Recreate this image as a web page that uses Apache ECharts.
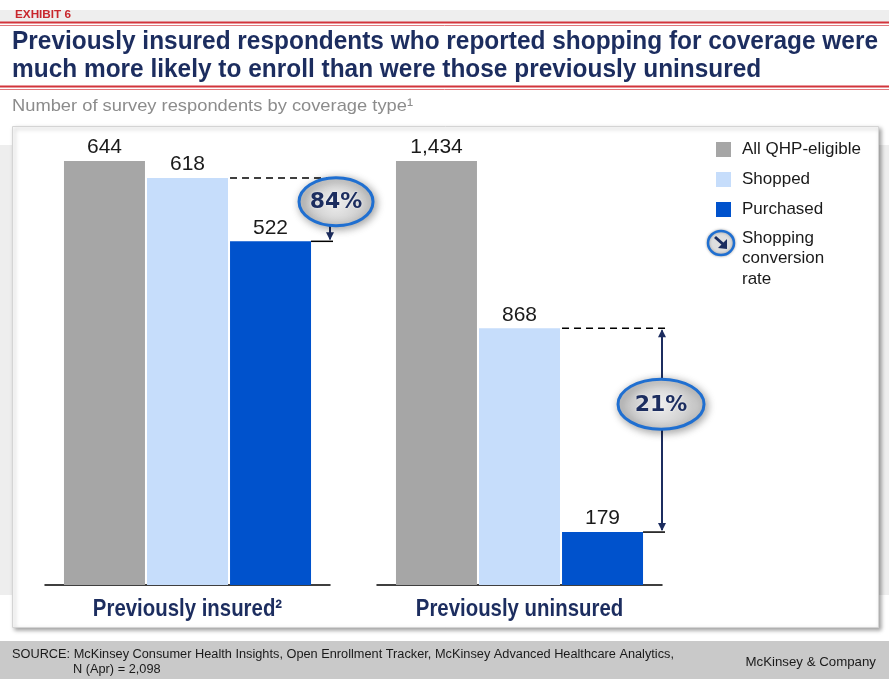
<!DOCTYPE html>
<html>
<head>
<meta charset="utf-8">
<script src="https://cdn.jsdelivr.net/npm/echarts@6/dist/echarts.min.js"></script>
<style>
  html, body { margin: 0; padding: 0; background: #ffffff; }
  #chart { width: 889px; height: 679px; }
</style>
</head>
<body>
<div id="chart"></div>
<script>
// Coverage groups and respondent counts per group
const groups = ['Previously insured²', 'Previously uninsured'];
const seriesNames = ['All QHP-eligible', 'Shopped', 'Purchased'];
const insuredCounts = [644, 618, 522];
const uninsuredCounts = [1434, 868, 179];
const groupCounts = [insuredCounts, uninsuredCounts];

const barColors = ['#a6a6a6', '#c6ddfb', '#0052cc'];
const navy = '#1c2d5f';
const sans = '"Liberation Sans", Arial, sans-serif';

const W = 889, H = 679;
const chart = echarts.init(document.getElementById('chart'), null, { renderer: 'canvas', width: W, height: H });

const fmt = v => v.toLocaleString('en-US');

// horizontal squeeze so a text run fills a given width (condensed look)
const measureCtx = document.createElement('canvas').getContext('2d');
function fitScale(text, weight, size, target) {
  measureCtx.font = weight + ' ' + size + 'px ' + sans;
  return target / measureCtx.measureText(text).width;
}
function fittedText(text, x, y, opts) {
  const weight = opts.weight || 'normal';
  const s = opts.scale || fitScale(text, weight, opts.size, opts.width);
  return {
    type: 'text',
    x: x, y: y, scaleX: s,
    style: {
      text: text, x: 0, y: 0,
      align: opts.align || 'left',
      verticalAlign: 'middle',
      fontFamily: sans,
      fontWeight: weight,
      fontSize: opts.size,
      fill: opts.fill
    },
    z: opts.z || 1
  };
}

// one grid per group, each scaled to its own largest count
const gridDefs = [
  { left: 45, top: 161, width: 285, bottom: 94 },
  { left: 377, top: 161, width: 285, bottom: 94 }
];

const series = [];
groupCounts.forEach((counts, g) => {
  counts.forEach((v, i) => {
    series.push({
      type: 'bar',
      name: seriesNames[i],
      xAxisIndex: g,
      yAxisIndex: g,
      data: [v],
      barWidth: 81,
      barGap: '2.5%',
      itemStyle: { color: barColors[i] },
      label: {
        show: true,
        position: 'top',
        distance: 3,
        formatter: p => fmt(p.value),
        fontFamily: sans,
        fontSize: 21,
        color: '#1a1a1a'
      },
      silent: true,
      animation: false,
      z: 5
    });
  });
});

chart.setOption({
  backgroundColor: '#ffffff',
  animation: false,
  grid: gridDefs,
  xAxis: groups.map((name, g) => ({
    type: 'category',
    gridIndex: g,
    data: [name],
    axisLine: { lineStyle: { color: '#000000', width: 1.5 } },
    axisTick: { show: false },
    axisLabel: { show: false }
  })),
  yAxis: groupCounts.map((counts, g) => ({
    type: 'value',
    gridIndex: g,
    min: 0,
    max: Math.max.apply(null, counts),
    show: false,
    splitLine: { show: false }
  })),
  legend: {
    data: seriesNames,
    orient: 'vertical',
    left: 711,
    top: 136,
    itemWidth: 15,
    itemHeight: 15,
    itemGap: 13,
    icon: 'rect',
    selectedMode: false,
    textStyle: { fontFamily: sans, fontSize: 17, color: '#1a1a1a', padding: [0, 0, 0, 6] }
  },
  series: series
});

// bar rectangle in pixels for a given series index
function barRect(seriesIndex, g, i) {
  try {
    const lay = chart.getModel().getSeriesByIndex(seriesIndex).getData().getItemLayout(0);
    if (lay && isFinite(lay.x)) {
      return { x0: Math.min(lay.x, lay.x + lay.width), x1: Math.max(lay.x, lay.x + lay.width),
               top: Math.min(lay.y, lay.y + lay.height) };
    }
  } catch (e) {}
  const cx = chart.convertToPixel({ xAxisIndex: g }, groups[g]);
  const bw = 81, gap = 81 * 0.025;
  const start = cx - (3 * bw + 2 * gap) / 2 + i * (bw + gap);
  const top = chart.convertToPixel({ yAxisIndex: g }, groupCounts[g][i]);
  return { x0: start, x1: start + bw, top: top };
}

function arrowHead(x, y, dir, color) {
  // dir: 1 points down, -1 points up
  return {
    type: 'polygon',
    shape: { points: [[x - 4, y - dir * 8], [x + 4, y - dir * 8], [x, y]] },
    style: { fill: color },
    z: 20
  };
}

function rateBadge(cx, cy, rx, ry, text) {
  return [
    {
      type: 'ellipse',
      shape: { cx: cx, cy: cy, rx: rx, ry: ry },
      style: {
        fill: { type: 'radial', x: 0.5, y: 0.5, r: 0.6,
          colorStops: [{ offset: 0, color: '#eeeeee' }, { offset: 1, color: '#c9c9c9' }] },
        stroke: '#1f6fd1',
        lineWidth: 3,
        shadowBlur: 8,
        shadowColor: 'rgba(0,0,0,0.35)',
        shadowOffsetX: 2,
        shadowOffsetY: 2
      },
      z: 30
    },
    {
      type: 'text',
      style: {
        text: text,
        x: cx, y: cy + 1,
        align: 'center',
        verticalAlign: 'middle',
        fontFamily: '"DejaVu Sans", sans-serif',
        fontWeight: 'bold',
        fontSize: 22,
        fill: navy,
        textShadowColor: 'rgba(255,255,255,0.9)',
        textShadowBlur: 2
      },
      z: 31
    }
  ];
}

const graphics = [];
const titleLine1 = 'Previously insured respondents who reported shopping for coverage were';
const titleLine2 = 'much more likely to enroll than were those previously uninsured';
const titleScale = fitScale(titleLine1, 'bold', 26, 866);
const sourceLine = 'SOURCE: McKinsey Consumer Health Insights, Open Enrollment Tracker, McKinsey Advanced Healthcare Analytics,';
const sourceScale = fitScale(sourceLine, 'normal', 12.5, 662);

// page furniture
graphics.push(
  { type: 'rect', shape: { x: 0, y: 10, width: W, height: 12 }, style: { fill: '#eeeeee' }, z: -10 },
  fittedText('EXHIBIT 6', 15, 15.5, { weight: 'bold', size: 10.5, width: 56, fill: '#c8262c' }),
  { type: 'line', shape: { x1: 0, y1: 22.5, x2: W, y2: 22.5 }, style: { stroke: '#d2343b', lineWidth: 2 }, z: 1 },
  { type: 'line', shape: { x1: 0, y1: 25.5, x2: W, y2: 25.5 }, style: { stroke: '#e0787c', lineWidth: 1 }, z: 1 },
  fittedText(titleLine1, 12, 42, { weight: 'bold', size: 26, scale: titleScale, fill: navy }),
  fittedText(titleLine2, 12, 70, { weight: 'bold', size: 26, scale: titleScale, fill: navy }),
  { type: 'line', shape: { x1: 0, y1: 86.5, x2: W, y2: 86.5 }, style: { stroke: '#d2343b', lineWidth: 2 }, z: 1 },
  { type: 'line', shape: { x1: 0, y1: 89.5, x2: W, y2: 89.5 }, style: { stroke: '#e0787c', lineWidth: 1 }, z: 1 },
  fittedText('Number of survey respondents by coverage type¹', 12, 106, { size: 17, width: 401, fill: '#8c8c8c' }),
  { type: 'rect', shape: { x: 0, y: 145, width: W, height: 450 }, style: { fill: '#eeeeee' }, z: -10 },
  { type: 'rect', shape: { x: 12.5, y: 126.5, width: 866, height: 501 },
    style: { fill: '#ffffff', stroke: '#d4d4d4', lineWidth: 1, shadowBlur: 4, shadowColor: 'rgba(0,0,0,0.35)',
      shadowOffsetX: 2, shadowOffsetY: 2 }, z: -5 },
  { type: 'rect', shape: { x: 0, y: 641, width: W, height: 38 }, style: { fill: '#c9c9c9' }, z: -10 },
  fittedText(sourceLine, 12, 655, { size: 12.5, scale: sourceScale, fill: '#1a1a1a' }),
  fittedText('N (Apr) = 2,098', 73, 670, { size: 12.5, scale: sourceScale, fill: '#1a1a1a' }),
  fittedText('McKinsey & Company', 876, 662, { size: 13, scale: sourceScale, align: 'right', fill: '#1a1a1a' })
);

// category names under each group, centred on the axis band
groups.forEach((name, g) => {
  const cx = chart.convertToPixel({ xAxisIndex: g }, name);
  graphics.push(fittedText(name, cx, 609, { weight: 'bold', size: 24, scale: 0.85, align: 'center', fill: navy }));
});

// legend entry for the conversion-rate badge
graphics.push(
  { type: 'ellipse', shape: { cx: 721, cy: 243, rx: 13, ry: 12 },
    style: { fill: '#dedede', stroke: '#1f6fd1', lineWidth: 2.5, shadowBlur: 3, shadowColor: 'rgba(0,0,0,0.3)' }, z: 10 },
  { type: 'line', shape: { x1: 715, y1: 237, x2: 724, y2: 245 }, style: { stroke: navy, lineWidth: 3 }, z: 11 },
  { type: 'polygon', shape: { points: [[727, 249], [718, 248], [727, 239]] }, style: { fill: navy }, z: 11 },
  { type: 'text', style: { text: 'Shopping\nconversion\nrate', x: 742, y: 228, lineHeight: 20.5,
      fontFamily: sans, fontSize: 17, fill: '#1a1a1a' }, z: 10 }
);

// conversion annotations: dashed line at shopped level, arrow down to purchased level, rate badge
const badgeSize = [[37, 24], [43, 25]];
groupCounts.forEach((counts, g) => {
  const base = g * 3;
  const shop = barRect(base + 1, g, 1);
  const buy = barRect(base + 2, g, 2);
  const ax = buy.x1 + 19;
  const rate = Math.round(counts[2] / counts[1] * 100) + '%';
  graphics.push(
    { type: 'line', shape: { x1: buy.x0, y1: shop.top, x2: ax + 3, y2: shop.top },
      style: { stroke: '#000000', lineWidth: 1.5, lineDash: [7, 5] }, z: 15 },
    { type: 'line', shape: { x1: buy.x1, y1: buy.top, x2: ax + 3, y2: buy.top },
      style: { stroke: '#000000', lineWidth: 1.5 }, z: 15 },
    { type: 'line', shape: { x1: ax, y1: shop.top + 2, x2: ax, y2: buy.top - 2 },
      style: { stroke: navy, lineWidth: 2 }, z: 18 },
    arrowHead(ax, shop.top + 1, -1, navy),
    arrowHead(ax, buy.top - 1, 1, navy)
  );
  const cy = g === 0 ? (shop.top + buy.top) / 2 - 8 : (shop.top + buy.top) / 2 - 26;
  rateBadge(ax + (g === 0 ? 6 : -1), cy, badgeSize[g][0], badgeSize[g][1], rate).forEach(e => graphics.push(e));
});

chart.setOption({ graphic: graphics });
</script>
</body>
</html>
